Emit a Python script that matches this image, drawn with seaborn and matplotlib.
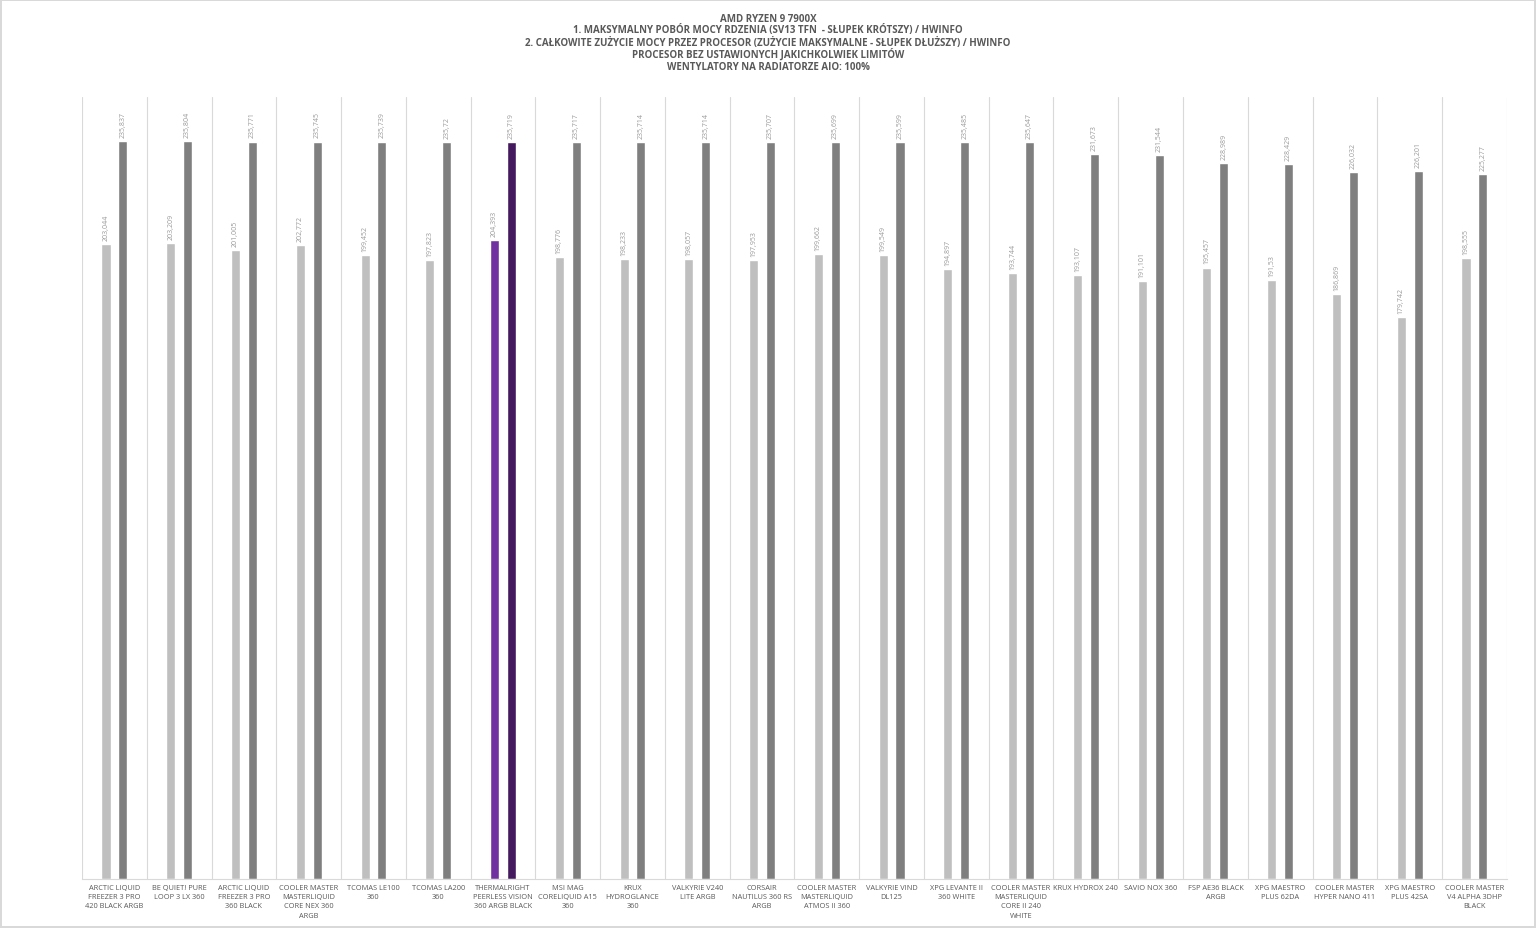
import matplotlib
matplotlib.use('Agg')
import matplotlib.pyplot as plt
import seaborn as sns
import pandas as pd
import numpy as np

coolers = ['ARCTIC LIQUID\nFREEZER 3 PRO\n420 BLACK ARGB', 'BE QUIET! PURE\nLOOP 3 LX 360',
           'ARCTIC LIQUID\nFREEZER 3 PRO\n360 BLACK', 'COOLER MASTER\nMASTERLIQUID\nCORE NEX 360\nARGB',
           'TCOMAS LE100\n360', 'TCOMAS LA200\n360', 'THERMALRIGHT\nPEERLESS VISION\n360 ARGB BLACK',
           'MSI MAG\nCORELIQUID A15\n360', 'KRUX\nHYDROGLANCE\n360', 'VALKYRIE V240\nLITE ARGB',
           'CORSAIR\nNAUTILUS 360 RS\nARGB', 'COOLER MASTER\nMASTERLIQUID\nATMOS II 360',
           'VALKYRIE VIND\nDL125', 'XPG LEVANTE II\n360 WHITE',
           'COOLER MASTER\nMASTERLIQUID\nCORE II 240\nWHITE', 'KRUX HYDROX 240', 'SAVIO NOX 360',
           'FSP AE36 BLACK\nARGB', 'XPG MAESTRO\nPLUS 62DA', 'COOLER MASTER\nHYPER NANO 411',
           'XPG MAESTRO\nPLUS 42SA', 'COOLER MASTER\nV4 ALPHA 3DHP\nBLACK']

core_power = [203.044, 203.209, 201.005, 202.772, 199.452, 197.823, 204.393, 198.776, 198.233, 198.057,
              197.953, 199.662, 199.549, 194.897, 193.744, 193.107, 191.101, 195.457, 191.53, 186.869,
              179.742, 198.555]
total_power = [235.837, 235.804, 235.771, 235.745, 235.739, 235.72, 235.719, 235.717, 235.714, 235.714,
               235.707, 235.699, 235.599, 235.485, 235.647, 231.673, 231.544, 228.989, 228.429, 226.032,
               226.201, 225.277]

highlight = 6

title_lines = ['AMD RYZEN 9 7900X',
               '1. MAKSYMALNY POBÓR MOCY RDZENIA (SV13 TFN  - SŁUPEK KRÓTSZY) / HWINFO',
               '2. CAŁKOWITE ZUŻYCIE MOCY PRZEZ PROCESOR (ZUŻYCIE MAKSYMALNE - SŁUPEK DŁUŻSZY) / HWINFO',
               'PROCESOR BEZ USTAWIONYCH JAKICHKOLWIEK LIMITÓW',
               'WENTYLATORY NA RADIATORZE AIO: 100%']

def fmt(v):
    s = ('%.3f' % v).rstrip('0').rstrip('.')
    return s.replace('.', ',')

df = pd.DataFrame({
    'cooler': coolers * 2,
    'value': core_power + total_power,
    'series': ['rdzen'] * len(coolers) + ['cpu'] * len(coolers),
})

sns.set_style('white')
plt.rcParams['font.family'] = ['Open Sans', 'DejaVu Sans']

fig = plt.figure(figsize=(15.36, 9.29), dpi=100, edgecolor='#D9D9D9', linewidth=1.5)
ax = fig.add_axes([0.0534, 0.0527, 0.9276, 0.8418])

sns.barplot(data=df, x='cooler', y='value', hue='series', palette=['#BFBFBF', '#7F7F7F'],
            width=0.52, legend=False, ax=ax, saturation=1)

# narrow bars with a gap between them
for cont in ax.containers:
    for p in cont.patches:
        c = p.get_x() + p.get_width() / 2
        p.set_width(0.14)
        p.set_x(c - 0.07)
ax.containers[0].patches[highlight].set_facecolor('#7030A0')
ax.containers[1].patches[highlight].set_facecolor('#44195E')

ax.bar_label(ax.containers[0], labels=[fmt(v) for v in core_power], rotation=90, padding=3,
             fontsize=5, color='#999999')
ax.bar_label(ax.containers[1], labels=[fmt(v) for v in total_power], rotation=90, padding=3,
             fontsize=5, color='#999999')

ax.set_ylim(0, 250)
ax.set_xlim(-0.5, len(coolers) - 0.5)
ax.set_yticks([])
ax.set_xticks(np.arange(-0.5, len(coolers), 1), minor=True)
ax.grid(which='minor', axis='x', color='#D9D9D9', lw=0.8)
ax.tick_params(which='both', length=0)
ax.set_xticks(range(len(coolers)))
ax.set_xticklabels(coolers, fontsize=5.3, color='#595959', linespacing=1.45)
ax.set_xlabel('')
ax.set_ylabel('')
for s in ['top', 'left', 'right']:
    ax.spines[s].set_visible(False)
ax.spines['bottom'].set_color('#D9D9D9')

# title lines placed one by one so the spacing stays even
for i, line in enumerate(title_lines):
    fig.text(0.5, 1 - (19 + 12 * i) / 929, line, ha='center', va='center', fontsize=7,
             fontweight='bold', color='#595959')

fig.savefig('out.png', dpi=100)
